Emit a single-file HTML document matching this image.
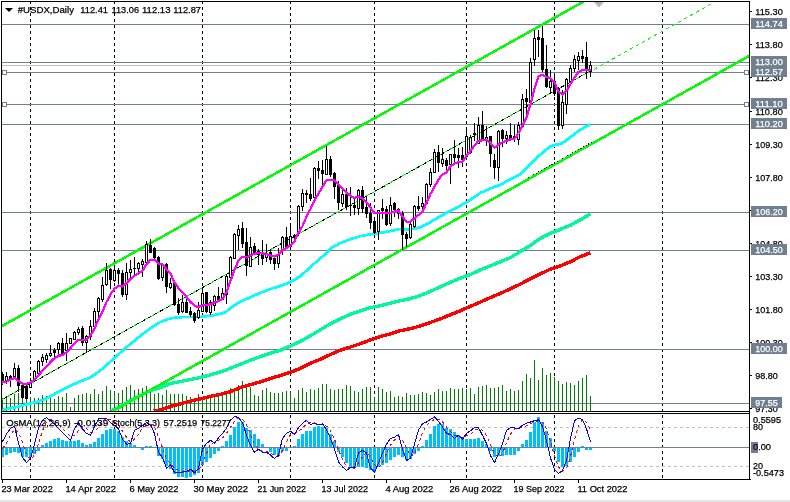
<!DOCTYPE html>
<html><head><meta charset="utf-8"><title>#USDX,Daily</title>
<style>
html,body{margin:0;padding:0;background:#fff;}
body{width:790px;height:502px;overflow:hidden;}
svg{display:block;}
text{font-family:"Liberation Sans",sans-serif;font-size:9.3px;fill:#000;stroke:#000;stroke-width:0.25px;}
.w{fill:#fff;stroke:#fff;}
</style></head><body>
<svg width="790" height="502" viewBox="0 0 790 502">
<rect x="0" y="0" width="790" height="502" fill="#fff"/>
<rect x="0" y="500" width="790" height="2" fill="#e6e6e6"/>
<g shape-rendering="crispEdges">
<defs><clipPath id="cm"><rect x="2" y="2" width="747" height="409"/></clipPath><clipPath id="cs"><rect x="2" y="414" width="747" height="65"/></clipPath></defs>
<g id="vsep" fill="none" stroke="#000" stroke-width="1" stroke-dasharray="3 3">
<line x1="30.5" y1="1" x2="30.5" y2="411"/>
<line x1="30.5" y1="415" x2="30.5" y2="479"/>
<line x1="114.5" y1="1" x2="114.5" y2="411"/>
<line x1="114.5" y1="415" x2="114.5" y2="479"/>
<line x1="202.5" y1="1" x2="202.5" y2="411"/>
<line x1="202.5" y1="415" x2="202.5" y2="479"/>
<line x1="290.5" y1="1" x2="290.5" y2="411"/>
<line x1="290.5" y1="415" x2="290.5" y2="479"/>
<line x1="374.5" y1="1" x2="374.5" y2="411"/>
<line x1="374.5" y1="415" x2="374.5" y2="479"/>
<line x1="466.5" y1="1" x2="466.5" y2="411"/>
<line x1="466.5" y1="415" x2="466.5" y2="479"/>
<line x1="554.5" y1="1" x2="554.5" y2="411"/>
<line x1="554.5" y1="415" x2="554.5" y2="479"/>
<line x1="662.5" y1="1" x2="662.5" y2="411"/>
<line x1="662.5" y1="415" x2="662.5" y2="479"/>
</g>
<rect x="2" y="24" width="747" height="1" fill="#708090"/>
<rect x="2" y="62" width="747" height="1" fill="#708090"/>
<rect x="2" y="72" width="747" height="1" fill="#708090"/>
<rect x="2" y="104" width="747" height="1" fill="#708090"/>
<rect x="2" y="124" width="747" height="1" fill="#708090"/>
<rect x="2" y="212" width="747" height="1" fill="#708090"/>
<rect x="2" y="250" width="747" height="1" fill="#708090"/>
<rect x="2" y="349" width="747" height="1" fill="#708090"/>
<rect x="2" y="403" width="747" height="1" fill="#708090"/>
<rect x="2" y="65" width="747" height="1" fill="#c0c0c0"/>
<g clip-path="url(#cm)">
<g fill="#008000">
<rect x="2" y="398" width="1" height="13"/><rect x="6" y="398" width="1" height="13"/><rect x="10" y="398" width="1" height="13"/><rect x="14" y="394" width="1" height="17"/><rect x="18" y="393" width="1" height="18"/><rect x="22" y="387" width="1" height="24"/><rect x="26" y="387" width="1" height="24"/><rect x="30" y="397" width="1" height="14"/><rect x="34" y="398" width="1" height="13"/><rect x="38" y="398" width="1" height="13"/><rect x="42" y="395" width="1" height="16"/><rect x="46" y="396" width="1" height="15"/><rect x="50" y="398" width="1" height="13"/><rect x="54" y="399" width="1" height="12"/><rect x="58" y="396" width="1" height="15"/><rect x="62" y="397" width="1" height="14"/><rect x="66" y="393" width="1" height="18"/><rect x="70" y="407" width="1" height="4"/><rect x="74" y="398" width="1" height="13"/><rect x="78" y="395" width="1" height="16"/><rect x="82" y="394" width="1" height="17"/><rect x="86" y="393" width="1" height="18"/><rect x="90" y="394" width="1" height="17"/><rect x="94" y="389" width="1" height="22"/><rect x="98" y="394" width="1" height="17"/><rect x="102" y="391" width="1" height="20"/><rect x="106" y="386" width="1" height="25"/><rect x="110" y="390" width="1" height="21"/><rect x="114" y="391" width="1" height="20"/><rect x="118" y="393" width="1" height="18"/><rect x="122" y="390" width="1" height="21"/><rect x="126" y="387" width="1" height="24"/><rect x="130" y="385" width="1" height="26"/><rect x="134" y="390" width="1" height="21"/><rect x="138" y="389" width="1" height="22"/><rect x="142" y="388" width="1" height="23"/><rect x="146" y="386" width="1" height="25"/><rect x="150" y="391" width="1" height="20"/><rect x="154" y="394" width="1" height="17"/><rect x="158" y="393" width="1" height="18"/><rect x="162" y="395" width="1" height="16"/><rect x="166" y="390" width="1" height="21"/><rect x="170" y="394" width="1" height="17"/><rect x="174" y="394" width="1" height="17"/><rect x="178" y="394" width="1" height="17"/><rect x="182" y="394" width="1" height="17"/><rect x="186" y="396" width="1" height="15"/><rect x="190" y="397" width="1" height="14"/><rect x="194" y="398" width="1" height="13"/><rect x="198" y="394" width="1" height="17"/><rect x="202" y="397" width="1" height="14"/><rect x="206" y="399" width="1" height="12"/><rect x="210" y="398" width="1" height="13"/><rect x="214" y="397" width="1" height="14"/><rect x="218" y="396" width="1" height="15"/><rect x="222" y="394" width="1" height="17"/><rect x="226" y="391" width="1" height="20"/><rect x="230" y="388" width="1" height="23"/><rect x="234" y="389" width="1" height="22"/><rect x="238" y="385" width="1" height="26"/><rect x="242" y="381" width="1" height="30"/><rect x="246" y="385" width="1" height="26"/><rect x="250" y="387" width="1" height="24"/><rect x="254" y="395" width="1" height="16"/><rect x="258" y="396" width="1" height="15"/><rect x="262" y="390" width="1" height="21"/><rect x="266" y="388" width="1" height="23"/><rect x="270" y="392" width="1" height="19"/><rect x="274" y="393" width="1" height="18"/><rect x="278" y="393" width="1" height="18"/><rect x="282" y="392" width="1" height="19"/><rect x="286" y="391" width="1" height="20"/><rect x="290" y="391" width="1" height="20"/><rect x="294" y="398" width="1" height="13"/><rect x="298" y="390" width="1" height="21"/><rect x="302" y="388" width="1" height="23"/><rect x="306" y="392" width="1" height="19"/><rect x="310" y="389" width="1" height="22"/><rect x="314" y="390" width="1" height="21"/><rect x="318" y="388" width="1" height="23"/><rect x="322" y="384" width="1" height="27"/><rect x="326" y="384" width="1" height="27"/><rect x="330" y="389" width="1" height="22"/><rect x="334" y="390" width="1" height="21"/><rect x="338" y="389" width="1" height="22"/><rect x="342" y="389" width="1" height="22"/><rect x="346" y="385" width="1" height="26"/><rect x="350" y="386" width="1" height="25"/><rect x="354" y="391" width="1" height="20"/><rect x="358" y="392" width="1" height="19"/><rect x="362" y="389" width="1" height="22"/><rect x="366" y="387" width="1" height="24"/><rect x="370" y="387" width="1" height="24"/><rect x="374" y="397" width="1" height="14"/><rect x="378" y="387" width="1" height="24"/><rect x="382" y="389" width="1" height="22"/><rect x="386" y="392" width="1" height="19"/><rect x="390" y="391" width="1" height="20"/><rect x="394" y="397" width="1" height="14"/><rect x="398" y="396" width="1" height="15"/><rect x="402" y="397" width="1" height="14"/><rect x="406" y="393" width="1" height="18"/><rect x="410" y="395" width="1" height="16"/><rect x="414" y="395" width="1" height="16"/><rect x="418" y="394" width="1" height="17"/><rect x="422" y="392" width="1" height="19"/><rect x="426" y="393" width="1" height="18"/><rect x="430" y="395" width="1" height="16"/><rect x="434" y="392" width="1" height="19"/><rect x="438" y="389" width="1" height="22"/><rect x="442" y="391" width="1" height="20"/><rect x="446" y="391" width="1" height="20"/><rect x="450" y="388" width="1" height="23"/><rect x="454" y="389" width="1" height="22"/><rect x="458" y="389" width="1" height="22"/><rect x="462" y="388" width="1" height="23"/><rect x="466" y="389" width="1" height="22"/><rect x="470" y="388" width="1" height="23"/><rect x="474" y="394" width="1" height="17"/><rect x="478" y="387" width="1" height="24"/><rect x="482" y="386" width="1" height="25"/><rect x="486" y="385" width="1" height="26"/><rect x="490" y="388" width="1" height="23"/><rect x="494" y="388" width="1" height="23"/><rect x="498" y="387" width="1" height="24"/><rect x="502" y="385" width="1" height="26"/><rect x="506" y="391" width="1" height="20"/><rect x="510" y="389" width="1" height="22"/><rect x="514" y="391" width="1" height="20"/><rect x="518" y="390" width="1" height="21"/><rect x="522" y="381" width="1" height="30"/><rect x="526" y="374" width="1" height="37"/><rect x="530" y="378" width="1" height="33"/><rect x="534" y="360" width="1" height="51"/><rect x="538" y="380" width="1" height="31"/><rect x="542" y="368" width="1" height="43"/><rect x="546" y="375" width="1" height="36"/><rect x="550" y="373" width="1" height="38"/><rect x="554" y="377" width="1" height="34"/><rect x="558" y="381" width="1" height="30"/><rect x="562" y="384" width="1" height="27"/><rect x="566" y="382" width="1" height="29"/><rect x="570" y="383" width="1" height="28"/><rect x="574" y="385" width="1" height="26"/><rect x="578" y="381" width="1" height="30"/><rect x="582" y="378" width="1" height="33"/><rect x="586" y="375" width="1" height="36"/><rect x="590" y="396" width="1" height="15"/>
</g>
<polyline points="153.7,411.0 160.0,410.0 170.0,406.6 180.0,403.9 190.0,401.3 200.0,398.9 210.0,396.4 220.0,394.4 230.0,391.8 240.0,387.7 250.0,384.7 260.0,382.0 270.0,378.6 280.0,375.6 290.0,372.5 300.0,368.5 310.0,363.4 320.0,359.4 330.0,354.7 340.0,350.3 350.0,347.2 360.0,343.8 370.0,340.0 380.0,336.6 390.0,334.0 400.0,330.8 410.0,328.7 420.0,326.1 430.0,322.6 440.0,319.0 450.0,314.9 460.0,310.9 470.0,306.5 480.0,302.2 490.0,297.8 500.0,293.5 508.0,290.0 520.0,284.2 530.0,279.1 540.0,274.0 550.0,269.4 560.0,266.0 570.0,261.9 580.0,256.8 590.5,252.8" fill="none" stroke="#ff0000" stroke-width="3.4" stroke-linejoin="round"/>
<polyline points="111.0,411.0 120.0,407.0 130.0,400.9 140.0,395.8 150.0,390.8 160.0,387.7 170.0,383.7 180.0,381.6 190.0,379.6 200.0,377.6 210.0,375.0 220.0,372.1 230.0,368.5 240.0,364.4 250.0,360.4 260.0,356.8 270.0,353.3 280.0,350.3 290.0,346.2 300.0,341.5 310.0,336.0 320.0,330.0 330.0,324.0 340.0,319.0 350.0,314.5 360.0,310.9 370.0,307.8 380.0,305.8 390.0,303.2 400.0,300.8 410.0,298.7 420.0,295.7 430.0,291.6 440.0,287.0 450.0,282.5 460.0,278.3 470.0,274.7 480.0,270.0 490.0,266.0 500.0,261.9 510.0,257.8 520.0,251.8 530.0,245.7 540.0,238.6 550.0,233.5 560.0,229.5 570.0,225.4 580.0,220.0 590.5,213.9" fill="none" stroke="#00fa9a" stroke-width="3.4" stroke-linejoin="round"/>
<polyline points="2.0,410.0 20.0,406.2 40.0,401.2 50.0,396.5 60.0,391.0 70.0,386.0 80.0,381.5 90.0,377.7 100.0,370.8 110.0,362.0 120.0,353.0 128.0,346.0 140.0,336.2 150.0,328.6 160.0,322.2 170.0,318.4 180.0,317.2 190.0,317.0 200.0,317.0 210.0,315.8 220.0,313.9 226.0,312.0 230.0,308.2 236.0,304.4 240.0,301.9 250.0,297.4 260.0,293.0 270.0,289.2 280.0,286.0 290.0,282.3 300.0,276.6 310.0,267.5 320.0,258.5 327.0,253.0 330.0,248.9 340.0,243.2 350.0,239.4 360.0,236.2 370.0,234.3 380.0,233.0 390.0,231.1 400.0,229.0 410.0,229.6 420.0,227.4 430.0,222.3 440.0,216.6 450.0,210.9 460.0,205.9 470.0,200.2 480.0,193.2 490.0,188.5 500.0,185.0 510.0,179.5 520.0,174.4 530.0,164.9 540.0,154.9 550.0,146.7 556.0,144.6 562.0,143.6 570.0,137.5 580.0,129.9 590.5,124.3" fill="none" stroke="#00ffff" stroke-width="2.7" stroke-linejoin="round"/>
<polyline points="100.0,418.2 760.0,49.9" fill="none" stroke="#00ff00" stroke-width="2.5" stroke-linejoin="round"/>
<polyline points="0.0,327.2 600.0,-7.6" fill="none" stroke="#00ff00" stroke-width="2.5" stroke-linejoin="round"/>
<polyline points="2.0,399.6 591.0,70.6" fill="none" stroke="#000" stroke-width="1" stroke-linejoin="round"/>
<polyline points="2.0,399.6 591.0,70.6" fill="none" stroke="#00ff00" stroke-width="1" stroke-linejoin="round" stroke-dasharray="3.43 3.43" stroke-dashoffset="1"/>
<polyline points="594.0,69.4 712.0,3.5" fill="none" stroke="#00ff00" stroke-width="1" stroke-linejoin="round" stroke-dasharray="3.43 3.43"/>
<polyline points="528.0,177.8 592.0,142.1" fill="none" stroke="#000" stroke-width="1" stroke-linejoin="round" stroke-dasharray="1 2"/>
</g>
<g clip-path="url(#cm)">
<rect x="2" y="372" width="1" height="13" fill="#000"/><rect x="1" y="374" width="3" height="9" fill="#000"/>
<rect x="6" y="372" width="1" height="12" fill="#000"/><rect x="5" y="376" width="3" height="5" fill="#000"/><rect x="6" y="377" width="1" height="3" fill="#fff"/>
<rect x="10" y="375" width="1" height="12" fill="#000"/><rect x="9" y="376" width="3" height="3" fill="#000"/>
<rect x="14" y="363" width="1" height="16" fill="#000"/><rect x="13" y="368" width="3" height="9" fill="#000"/><rect x="14" y="369" width="1" height="7" fill="#fff"/>
<rect x="18" y="365" width="1" height="27" fill="#000"/><rect x="17" y="368" width="3" height="18" fill="#000"/>
<rect x="22" y="384" width="1" height="15" fill="#000"/><rect x="21" y="385" width="3" height="13" fill="#000"/>
<rect x="26" y="385" width="1" height="14" fill="#000"/><rect x="25" y="386" width="3" height="13" fill="#000"/>
<rect x="30" y="378" width="1" height="10" fill="#000"/><rect x="29" y="382" width="3" height="6" fill="#000"/><rect x="30" y="383" width="1" height="4" fill="#fff"/>
<rect x="34" y="370" width="1" height="12" fill="#000"/><rect x="33" y="371" width="3" height="10" fill="#000"/><rect x="34" y="372" width="1" height="8" fill="#fff"/>
<rect x="38" y="360" width="1" height="14" fill="#000"/><rect x="37" y="361" width="3" height="13" fill="#000"/><rect x="38" y="362" width="1" height="11" fill="#fff"/>
<rect x="42" y="354" width="1" height="12" fill="#000"/><rect x="41" y="357" width="3" height="5" fill="#000"/><rect x="42" y="358" width="1" height="3" fill="#fff"/>
<rect x="46" y="353" width="1" height="10" fill="#000"/><rect x="45" y="355" width="3" height="5" fill="#000"/><rect x="46" y="356" width="1" height="3" fill="#fff"/>
<rect x="50" y="345" width="1" height="12" fill="#000"/><rect x="49" y="353" width="3" height="3" fill="#000"/><rect x="50" y="354" width="1" height="1" fill="#fff"/>
<rect x="54" y="348" width="1" height="12" fill="#000"/><rect x="53" y="350" width="3" height="3" fill="#000"/>
<rect x="58" y="342" width="1" height="13" fill="#000"/><rect x="57" y="343" width="3" height="7" fill="#000"/><rect x="58" y="344" width="1" height="5" fill="#fff"/>
<rect x="62" y="338" width="1" height="17" fill="#000"/><rect x="61" y="343" width="3" height="12" fill="#000"/>
<rect x="66" y="333" width="1" height="28" fill="#000"/><rect x="65" y="343" width="3" height="8" fill="#000"/><rect x="66" y="344" width="1" height="6" fill="#fff"/>
<rect x="70" y="338" width="1" height="6" fill="#000"/><rect x="69" y="338" width="3" height="6" fill="#000"/><rect x="70" y="339" width="1" height="4" fill="#fff"/>
<rect x="74" y="331" width="1" height="9" fill="#000"/><rect x="73" y="332" width="3" height="8" fill="#000"/><rect x="74" y="333" width="1" height="6" fill="#fff"/>
<rect x="78" y="327" width="1" height="8" fill="#000"/><rect x="77" y="329" width="3" height="4" fill="#000"/><rect x="78" y="330" width="1" height="2" fill="#fff"/>
<rect x="82" y="326" width="1" height="20" fill="#000"/><rect x="81" y="328" width="3" height="15" fill="#000"/>
<rect x="86" y="335" width="1" height="18" fill="#000"/><rect x="85" y="336" width="3" height="7" fill="#000"/><rect x="86" y="337" width="1" height="5" fill="#fff"/>
<rect x="90" y="320" width="1" height="20" fill="#000"/><rect x="89" y="326" width="3" height="11" fill="#000"/><rect x="90" y="327" width="1" height="9" fill="#fff"/>
<rect x="94" y="308" width="1" height="20" fill="#000"/><rect x="93" y="311" width="3" height="16" fill="#000"/><rect x="94" y="312" width="1" height="14" fill="#fff"/>
<rect x="98" y="297" width="1" height="21" fill="#000"/><rect x="97" y="298" width="3" height="14" fill="#000"/><rect x="98" y="299" width="1" height="12" fill="#fff"/>
<rect x="102" y="277" width="1" height="25" fill="#000"/><rect x="101" y="285" width="3" height="15" fill="#000"/><rect x="102" y="286" width="1" height="13" fill="#fff"/>
<rect x="106" y="263" width="1" height="23" fill="#000"/><rect x="105" y="270" width="3" height="15" fill="#000"/><rect x="106" y="271" width="1" height="13" fill="#fff"/>
<rect x="110" y="268" width="1" height="21" fill="#000"/><rect x="109" y="269" width="3" height="11" fill="#000"/>
<rect x="114" y="265" width="1" height="17" fill="#000"/><rect x="113" y="270" width="3" height="11" fill="#000"/><rect x="114" y="271" width="1" height="9" fill="#fff"/>
<rect x="118" y="268" width="1" height="17" fill="#000"/><rect x="117" y="270" width="3" height="4" fill="#000"/>
<rect x="122" y="270" width="1" height="27" fill="#000"/><rect x="121" y="273" width="3" height="22" fill="#000"/>
<rect x="126" y="263" width="1" height="37" fill="#000"/><rect x="125" y="272" width="3" height="23" fill="#000"/><rect x="126" y="273" width="1" height="21" fill="#fff"/>
<rect x="130" y="260" width="1" height="18" fill="#000"/><rect x="129" y="269" width="3" height="4" fill="#000"/><rect x="130" y="270" width="1" height="2" fill="#fff"/>
<rect x="134" y="257" width="1" height="18" fill="#000"/><rect x="133" y="268" width="3" height="1" fill="#000"/>
<rect x="138" y="262" width="1" height="11" fill="#000"/><rect x="137" y="263" width="3" height="6" fill="#000"/><rect x="138" y="264" width="1" height="4" fill="#fff"/>
<rect x="142" y="259" width="1" height="18" fill="#000"/><rect x="141" y="261" width="3" height="4" fill="#000"/><rect x="142" y="262" width="1" height="2" fill="#fff"/>
<rect x="146" y="241" width="1" height="23" fill="#000"/><rect x="145" y="244" width="3" height="19" fill="#000"/><rect x="146" y="245" width="1" height="17" fill="#fff"/>
<rect x="150" y="239" width="1" height="14" fill="#000"/><rect x="149" y="245" width="3" height="8" fill="#000"/>
<rect x="154" y="247" width="1" height="14" fill="#000"/><rect x="153" y="248" width="3" height="10" fill="#000"/>
<rect x="158" y="256" width="1" height="24" fill="#000"/><rect x="157" y="257" width="3" height="22" fill="#000"/>
<rect x="162" y="264" width="1" height="17" fill="#000"/><rect x="161" y="264" width="3" height="14" fill="#000"/><rect x="162" y="265" width="1" height="12" fill="#fff"/>
<rect x="166" y="263" width="1" height="30" fill="#000"/><rect x="165" y="264" width="3" height="23" fill="#000"/>
<rect x="170" y="278" width="1" height="11" fill="#000"/><rect x="169" y="283" width="3" height="5" fill="#000"/><rect x="170" y="284" width="1" height="3" fill="#fff"/>
<rect x="174" y="281" width="1" height="25" fill="#000"/><rect x="173" y="282" width="3" height="23" fill="#000"/>
<rect x="178" y="298" width="1" height="17" fill="#000"/><rect x="177" y="304" width="3" height="9" fill="#000"/>
<rect x="182" y="295" width="1" height="18" fill="#000"/><rect x="181" y="302" width="3" height="10" fill="#000"/><rect x="182" y="303" width="1" height="8" fill="#fff"/>
<rect x="186" y="299" width="1" height="14" fill="#000"/><rect x="185" y="302" width="3" height="11" fill="#000"/>
<rect x="190" y="307" width="1" height="10" fill="#000"/><rect x="189" y="311" width="3" height="4" fill="#000"/>
<rect x="194" y="312" width="1" height="11" fill="#000"/><rect x="193" y="313" width="3" height="8" fill="#000"/>
<rect x="198" y="302" width="1" height="17" fill="#000"/><rect x="197" y="310" width="3" height="8" fill="#000"/><rect x="198" y="311" width="1" height="6" fill="#fff"/>
<rect x="202" y="288" width="1" height="24" fill="#000"/><rect x="201" y="293" width="3" height="19" fill="#000"/><rect x="202" y="294" width="1" height="17" fill="#fff"/>
<rect x="206" y="292" width="1" height="21" fill="#000"/><rect x="205" y="292" width="3" height="20" fill="#000"/>
<rect x="210" y="300" width="1" height="15" fill="#000"/><rect x="209" y="302" width="3" height="11" fill="#000"/><rect x="210" y="303" width="1" height="9" fill="#fff"/>
<rect x="214" y="295" width="1" height="16" fill="#000"/><rect x="213" y="296" width="3" height="10" fill="#000"/><rect x="214" y="297" width="1" height="8" fill="#fff"/>
<rect x="218" y="287" width="1" height="14" fill="#000"/><rect x="217" y="296" width="3" height="4" fill="#000"/>
<rect x="222" y="288" width="1" height="12" fill="#000"/><rect x="221" y="293" width="3" height="7" fill="#000"/><rect x="222" y="294" width="1" height="5" fill="#fff"/>
<rect x="226" y="275" width="1" height="29" fill="#000"/><rect x="225" y="276" width="3" height="19" fill="#000"/><rect x="226" y="277" width="1" height="17" fill="#fff"/>
<rect x="230" y="256" width="1" height="26" fill="#000"/><rect x="229" y="257" width="3" height="21" fill="#000"/><rect x="230" y="258" width="1" height="19" fill="#fff"/>
<rect x="234" y="233" width="1" height="26" fill="#000"/><rect x="233" y="234" width="3" height="25" fill="#000"/><rect x="234" y="235" width="1" height="23" fill="#fff"/>
<rect x="238" y="225" width="1" height="25" fill="#000"/><rect x="237" y="229" width="3" height="7" fill="#000"/><rect x="238" y="230" width="1" height="5" fill="#fff"/>
<rect x="242" y="222" width="1" height="26" fill="#000"/><rect x="241" y="228" width="3" height="16" fill="#000"/>
<rect x="246" y="228" width="1" height="48" fill="#000"/><rect x="245" y="242" width="3" height="24" fill="#000"/>
<rect x="250" y="237" width="1" height="30" fill="#000"/><rect x="249" y="247" width="3" height="20" fill="#000"/><rect x="250" y="248" width="1" height="18" fill="#fff"/>
<rect x="254" y="243" width="1" height="12" fill="#000"/><rect x="253" y="246" width="3" height="8" fill="#000"/>
<rect x="258" y="249" width="1" height="16" fill="#000"/><rect x="257" y="251" width="3" height="4" fill="#000"/>
<rect x="262" y="240" width="1" height="25" fill="#000"/><rect x="261" y="252" width="3" height="7" fill="#000"/>
<rect x="266" y="244" width="1" height="18" fill="#000"/><rect x="265" y="253" width="3" height="5" fill="#000"/><rect x="266" y="254" width="1" height="3" fill="#fff"/>
<rect x="270" y="249" width="1" height="15" fill="#000"/><rect x="269" y="252" width="3" height="8" fill="#000"/>
<rect x="274" y="256" width="1" height="14" fill="#000"/><rect x="273" y="258" width="3" height="6" fill="#000"/>
<rect x="278" y="248" width="1" height="20" fill="#000"/><rect x="277" y="254" width="3" height="10" fill="#000"/><rect x="278" y="255" width="1" height="8" fill="#fff"/>
<rect x="282" y="236" width="1" height="19" fill="#000"/><rect x="281" y="237" width="3" height="13" fill="#000"/><rect x="282" y="238" width="1" height="11" fill="#fff"/>
<rect x="286" y="227" width="1" height="22" fill="#000"/><rect x="285" y="237" width="3" height="11" fill="#000"/>
<rect x="290" y="224" width="1" height="26" fill="#000"/><rect x="289" y="236" width="3" height="11" fill="#000"/><rect x="290" y="237" width="1" height="9" fill="#fff"/>
<rect x="294" y="234" width="1" height="7" fill="#000"/><rect x="293" y="235" width="3" height="3" fill="#000"/>
<rect x="298" y="205" width="1" height="31" fill="#000"/><rect x="297" y="206" width="3" height="28" fill="#000"/><rect x="298" y="207" width="1" height="26" fill="#fff"/>
<rect x="302" y="189" width="1" height="22" fill="#000"/><rect x="301" y="193" width="3" height="14" fill="#000"/><rect x="302" y="194" width="1" height="12" fill="#fff"/>
<rect x="306" y="190" width="1" height="13" fill="#000"/><rect x="305" y="193" width="3" height="2" fill="#000"/>
<rect x="310" y="178" width="1" height="23" fill="#000"/><rect x="309" y="194" width="3" height="5" fill="#000"/>
<rect x="314" y="167" width="1" height="32" fill="#000"/><rect x="313" y="168" width="3" height="30" fill="#000"/><rect x="314" y="169" width="1" height="28" fill="#fff"/>
<rect x="318" y="161" width="1" height="18" fill="#000"/><rect x="317" y="168" width="3" height="3" fill="#000"/>
<rect x="322" y="160" width="1" height="26" fill="#000"/><rect x="321" y="170" width="3" height="4" fill="#000"/>
<rect x="326" y="146" width="1" height="29" fill="#000"/><rect x="325" y="159" width="3" height="16" fill="#000"/><rect x="326" y="160" width="1" height="14" fill="#fff"/>
<rect x="330" y="156" width="1" height="21" fill="#000"/><rect x="329" y="159" width="3" height="16" fill="#000"/>
<rect x="334" y="172" width="1" height="27" fill="#000"/><rect x="333" y="173" width="3" height="14" fill="#000"/>
<rect x="338" y="181" width="1" height="29" fill="#000"/><rect x="337" y="185" width="3" height="18" fill="#000"/>
<rect x="342" y="190" width="1" height="17" fill="#000"/><rect x="341" y="194" width="3" height="10" fill="#000"/><rect x="342" y="195" width="1" height="8" fill="#fff"/>
<rect x="346" y="188" width="1" height="22" fill="#000"/><rect x="345" y="194" width="3" height="13" fill="#000"/>
<rect x="350" y="187" width="1" height="29" fill="#000"/><rect x="349" y="205" width="3" height="1" fill="#000"/>
<rect x="354" y="199" width="1" height="16" fill="#000"/><rect x="353" y="205" width="3" height="3" fill="#000"/>
<rect x="358" y="189" width="1" height="26" fill="#000"/><rect x="357" y="190" width="3" height="19" fill="#000"/><rect x="358" y="191" width="1" height="17" fill="#fff"/>
<rect x="362" y="186" width="1" height="27" fill="#000"/><rect x="361" y="190" width="3" height="19" fill="#000"/>
<rect x="366" y="196" width="1" height="22" fill="#000"/><rect x="365" y="207" width="3" height="7" fill="#000"/>
<rect x="370" y="203" width="1" height="26" fill="#000"/><rect x="369" y="213" width="3" height="10" fill="#000"/>
<rect x="374" y="218" width="1" height="16" fill="#000"/><rect x="373" y="221" width="3" height="12" fill="#000"/>
<rect x="378" y="210" width="1" height="30" fill="#000"/><rect x="377" y="210" width="3" height="22" fill="#000"/><rect x="378" y="211" width="1" height="20" fill="#fff"/>
<rect x="382" y="199" width="1" height="20" fill="#000"/><rect x="381" y="208" width="3" height="3" fill="#000"/>
<rect x="386" y="206" width="1" height="20" fill="#000"/><rect x="385" y="209" width="3" height="16" fill="#000"/>
<rect x="390" y="197" width="1" height="29" fill="#000"/><rect x="389" y="205" width="3" height="19" fill="#000"/><rect x="390" y="206" width="1" height="17" fill="#fff"/>
<rect x="394" y="202" width="1" height="15" fill="#000"/><rect x="393" y="203" width="3" height="7" fill="#000"/>
<rect x="398" y="208" width="1" height="11" fill="#000"/><rect x="397" y="209" width="3" height="5" fill="#000"/>
<rect x="402" y="211" width="1" height="39" fill="#000"/><rect x="401" y="213" width="3" height="22" fill="#000"/>
<rect x="406" y="232" width="1" height="15" fill="#000"/><rect x="405" y="234" width="3" height="5" fill="#000"/>
<rect x="410" y="223" width="1" height="16" fill="#000"/><rect x="409" y="224" width="3" height="14" fill="#000"/><rect x="410" y="225" width="1" height="12" fill="#fff"/>
<rect x="414" y="205" width="1" height="23" fill="#000"/><rect x="413" y="206" width="3" height="21" fill="#000"/><rect x="414" y="207" width="1" height="19" fill="#fff"/>
<rect x="418" y="196" width="1" height="15" fill="#000"/><rect x="417" y="206" width="3" height="3" fill="#000"/>
<rect x="422" y="197" width="1" height="14" fill="#000"/><rect x="421" y="203" width="3" height="4" fill="#000"/><rect x="422" y="204" width="1" height="2" fill="#fff"/>
<rect x="426" y="183" width="1" height="22" fill="#000"/><rect x="425" y="184" width="3" height="20" fill="#000"/><rect x="426" y="185" width="1" height="18" fill="#fff"/>
<rect x="430" y="168" width="1" height="19" fill="#000"/><rect x="429" y="172" width="3" height="13" fill="#000"/><rect x="430" y="173" width="1" height="11" fill="#fff"/>
<rect x="434" y="149" width="1" height="24" fill="#000"/><rect x="433" y="152" width="3" height="21" fill="#000"/><rect x="434" y="153" width="1" height="19" fill="#fff"/>
<rect x="438" y="145" width="1" height="27" fill="#000"/><rect x="437" y="152" width="3" height="11" fill="#000"/>
<rect x="442" y="148" width="1" height="19" fill="#000"/><rect x="441" y="159" width="3" height="5" fill="#000"/><rect x="442" y="160" width="1" height="3" fill="#fff"/>
<rect x="446" y="158" width="1" height="14" fill="#000"/><rect x="445" y="160" width="3" height="6" fill="#000"/>
<rect x="450" y="154" width="1" height="30" fill="#000"/><rect x="449" y="154" width="3" height="11" fill="#000"/><rect x="450" y="155" width="1" height="9" fill="#fff"/>
<rect x="454" y="140" width="1" height="24" fill="#000"/><rect x="453" y="154" width="3" height="4" fill="#000"/>
<rect x="458" y="148" width="1" height="20" fill="#000"/><rect x="457" y="155" width="3" height="3" fill="#000"/>
<rect x="462" y="147" width="1" height="20" fill="#000"/><rect x="461" y="155" width="3" height="5" fill="#000"/>
<rect x="466" y="127" width="1" height="32" fill="#000"/><rect x="465" y="136" width="3" height="21" fill="#000"/><rect x="466" y="137" width="1" height="19" fill="#fff"/>
<rect x="470" y="135" width="1" height="19" fill="#000"/><rect x="469" y="137" width="3" height="16" fill="#000"/><rect x="470" y="138" width="1" height="14" fill="#fff"/>
<rect x="474" y="123" width="1" height="18" fill="#000"/><rect x="473" y="133" width="3" height="2" fill="#000"/>
<rect x="478" y="117" width="1" height="27" fill="#000"/><rect x="477" y="125" width="3" height="19" fill="#000"/><rect x="478" y="126" width="1" height="17" fill="#fff"/>
<rect x="482" y="111" width="1" height="30" fill="#000"/><rect x="481" y="125" width="3" height="15" fill="#000"/>
<rect x="486" y="126" width="1" height="20" fill="#000"/><rect x="485" y="137" width="3" height="3" fill="#000"/><rect x="486" y="138" width="1" height="1" fill="#fff"/>
<rect x="490" y="136" width="1" height="31" fill="#000"/><rect x="489" y="136" width="3" height="18" fill="#000"/>
<rect x="494" y="154" width="1" height="25" fill="#000"/><rect x="493" y="160" width="3" height="8" fill="#000"/>
<rect x="498" y="130" width="1" height="51" fill="#000"/><rect x="497" y="131" width="3" height="37" fill="#000"/><rect x="498" y="132" width="1" height="35" fill="#fff"/>
<rect x="502" y="129" width="1" height="18" fill="#000"/><rect x="501" y="130" width="3" height="9" fill="#000"/>
<rect x="506" y="131" width="1" height="13" fill="#000"/><rect x="505" y="135" width="3" height="4" fill="#000"/><rect x="506" y="136" width="1" height="2" fill="#fff"/>
<rect x="510" y="123" width="1" height="17" fill="#000"/><rect x="509" y="135" width="3" height="4" fill="#000"/>
<rect x="514" y="125" width="1" height="17" fill="#000"/><rect x="513" y="136" width="3" height="3" fill="#000"/>
<rect x="518" y="122" width="1" height="23" fill="#000"/><rect x="517" y="125" width="3" height="15" fill="#000"/><rect x="518" y="126" width="1" height="13" fill="#fff"/>
<rect x="522" y="94" width="1" height="33" fill="#000"/><rect x="521" y="99" width="3" height="28" fill="#000"/><rect x="522" y="100" width="1" height="26" fill="#fff"/>
<rect x="526" y="89" width="1" height="25" fill="#000"/><rect x="525" y="98" width="3" height="4" fill="#000"/>
<rect x="530" y="58" width="1" height="47" fill="#000"/><rect x="529" y="62" width="3" height="41" fill="#000"/><rect x="530" y="63" width="1" height="39" fill="#fff"/>
<rect x="534" y="30" width="1" height="36" fill="#000"/><rect x="533" y="38" width="3" height="22" fill="#000"/><rect x="534" y="39" width="1" height="20" fill="#fff"/>
<rect x="538" y="30" width="1" height="27" fill="#000"/><rect x="537" y="37" width="3" height="3" fill="#000"/>
<rect x="542" y="26" width="1" height="46" fill="#000"/><rect x="541" y="38" width="3" height="32" fill="#000"/>
<rect x="546" y="45" width="1" height="43" fill="#000"/><rect x="545" y="69" width="3" height="18" fill="#000"/>
<rect x="550" y="70" width="1" height="24" fill="#000"/><rect x="549" y="81" width="3" height="7" fill="#000"/><rect x="550" y="82" width="1" height="5" fill="#fff"/>
<rect x="554" y="73" width="1" height="23" fill="#000"/><rect x="553" y="81" width="3" height="13" fill="#000"/>
<rect x="558" y="87" width="1" height="43" fill="#000"/><rect x="557" y="88" width="3" height="38" fill="#000"/>
<rect x="562" y="90" width="1" height="39" fill="#000"/><rect x="561" y="102" width="3" height="24" fill="#000"/><rect x="562" y="103" width="1" height="22" fill="#fff"/>
<rect x="566" y="78" width="1" height="36" fill="#000"/><rect x="565" y="79" width="3" height="26" fill="#000"/><rect x="566" y="80" width="1" height="24" fill="#fff"/>
<rect x="570" y="65" width="1" height="20" fill="#000"/><rect x="569" y="68" width="3" height="14" fill="#000"/><rect x="570" y="69" width="1" height="12" fill="#fff"/>
<rect x="574" y="55" width="1" height="17" fill="#000"/><rect x="573" y="59" width="3" height="10" fill="#000"/><rect x="574" y="60" width="1" height="8" fill="#fff"/>
<rect x="578" y="52" width="1" height="18" fill="#000"/><rect x="577" y="56" width="3" height="5" fill="#000"/><rect x="578" y="57" width="1" height="3" fill="#fff"/>
<rect x="582" y="50" width="1" height="13" fill="#000"/><rect x="581" y="56" width="3" height="3" fill="#000"/>
<rect x="586" y="42" width="1" height="37" fill="#000"/><rect x="585" y="57" width="3" height="13" fill="#000"/>
<rect x="590" y="61" width="1" height="16" fill="#000"/><rect x="589" y="65" width="3" height="7" fill="#000"/><rect x="590" y="66" width="1" height="5" fill="#fff"/>
</g>
<g clip-path="url(#cm)">
<polyline points="2.0,382.8 6.5,381.5 10.5,379.6 14.5,378.1 18.5,380.9 22.5,383.7 26.5,384.0 30.5,382.4 34.5,379.6 38.5,375.2 42.5,370.8 46.5,366.4 50.5,362.0 54.5,358.1 58.5,355.6 62.5,355.3 66.5,352.4 70.5,348.0 74.5,343.2 78.5,340.0 82.5,340.4 86.5,339.4 90.5,335.6 94.5,328.7 98.5,319.2 102.5,311.5 106.5,302.0 110.5,294.4 114.5,288.8 118.5,285.6 122.5,286.6 126.5,283.1 130.5,279.0 134.5,275.8 138.5,273.6 142.5,270.7 146.5,264.4 150.5,259.7 154.5,259.7 158.5,263.9 162.5,264.4 166.5,269.2 170.5,273.6 174.5,282.5 178.5,288.1 182.5,292.3 186.5,297.0 190.5,302.0 194.5,305.8 198.5,307.0 202.5,305.5 206.5,304.8 210.5,304.4 214.5,302.5 218.5,301.0 222.5,298.7 226.5,292.4 230.5,281.0 234.5,269.6 238.5,260.7 242.5,256.9 246.5,257.5 250.5,255.6 254.5,253.7 258.5,253.1 262.5,253.4 266.5,254.1 270.5,255.6 274.5,256.6 278.5,254.4 282.5,249.9 286.5,248.0 290.5,245.5 294.5,241.1 298.5,232.8 302.5,226.1 306.5,216.6 310.5,209.0 314.5,200.1 318.5,193.5 322.5,186.8 326.5,180.3 330.5,179.9 334.5,180.3 338.5,184.9 342.5,188.6 346.5,192.5 350.5,195.7 354.5,198.0 358.5,196.6 362.5,198.7 366.5,202.0 370.5,207.7 374.5,213.0 378.5,213.0 382.5,212.8 386.5,213.4 390.5,212.8 394.5,211.5 398.5,210.5 402.5,216.6 406.5,221.7 410.5,221.7 414.5,218.2 418.5,215.1 422.5,211.6 426.5,202.7 430.5,193.9 434.5,186.8 438.5,179.4 442.5,174.4 446.5,172.5 450.5,166.5 454.5,163.6 458.5,162.0 462.5,161.5 466.5,156.0 470.5,151.0 474.5,145.3 478.5,140.8 482.5,140.4 486.5,139.8 490.5,142.8 494.5,147.8 498.5,144.7 502.5,142.2 506.5,140.9 510.5,139.6 514.5,138.7 518.5,133.5 522.5,125.6 526.5,118.0 530.5,104.1 534.5,88.3 538.5,76.3 542.5,75.0 546.5,76.9 550.5,78.2 554.5,82.6 558.5,91.5 562.5,94.6 566.5,90.8 570.5,84.0 574.5,78.0 578.5,72.0 582.5,69.7 586.5,69.7 590.5,69.7" fill="none" stroke="#ff00ff" stroke-width="2.2" stroke-linejoin="round"/>
</g>
<rect x="2.5" y="70.5" width="4" height="4" fill="#fff" stroke="#708090" stroke-width="1"/>
<rect x="744.5" y="70.5" width="4" height="4" fill="#fff" stroke="#708090" stroke-width="1"/>
<rect x="2.5" y="102.5" width="4" height="4" fill="#fff" stroke="#708090" stroke-width="1"/>
<rect x="744.5" y="102.5" width="4" height="4" fill="#fff" stroke="#708090" stroke-width="1"/>
<polygon points="594,2 604,2 599,7.5" fill="#b4b4b4" shape-rendering="auto"/>
<g clip-path="url(#cs)">
<line x1="2" y1="427.5" x2="749" y2="427.5" stroke="#c0c0c0" stroke-width="1" stroke-dasharray="3 3"/>
<line x1="2" y1="466.5" x2="749" y2="466.5" stroke="#c0c0c0" stroke-width="1" stroke-dasharray="3 3"/>
<g fill="#00bfff">
<rect x="1" y="448" width="3" height="9"/><rect x="5" y="448" width="3" height="7"/><rect x="9" y="448" width="3" height="5"/><rect x="13" y="448" width="3" height="4"/><rect x="17" y="448" width="3" height="5"/><rect x="21" y="448" width="3" height="9"/><rect x="25" y="448" width="3" height="9"/><rect x="29" y="448" width="3" height="9"/><rect x="33" y="448" width="3" height="6"/><rect x="37" y="448" width="3" height="3"/><rect x="41" y="445" width="3" height="2"/><rect x="45" y="443" width="3" height="4"/><rect x="49" y="441" width="3" height="6"/><rect x="53" y="439" width="3" height="8"/><rect x="57" y="438" width="3" height="9"/><rect x="61" y="440" width="3" height="7"/><rect x="65" y="441" width="3" height="6"/><rect x="69" y="441" width="3" height="6"/><rect x="73" y="441" width="3" height="6"/><rect x="77" y="440" width="3" height="7"/><rect x="81" y="443" width="3" height="4"/><rect x="85" y="445" width="3" height="2"/><rect x="89" y="444" width="3" height="3"/><rect x="93" y="442" width="3" height="5"/><rect x="97" y="438" width="3" height="9"/><rect x="101" y="434" width="3" height="13"/><rect x="105" y="430" width="3" height="17"/><rect x="109" y="429" width="3" height="18"/><rect x="113" y="429" width="3" height="18"/><rect x="117" y="431" width="3" height="16"/><rect x="121" y="437" width="3" height="10"/><rect x="125" y="441" width="3" height="6"/><rect x="129" y="443" width="3" height="4"/><rect x="133" y="445" width="3" height="2"/><rect x="141" y="448" width="3" height="2"/><rect x="145" y="446" width="3" height="1"/><rect x="149" y="446" width="3" height="1"/><rect x="157" y="448" width="3" height="8"/><rect x="161" y="448" width="3" height="11"/><rect x="165" y="448" width="3" height="18"/><rect x="169" y="448" width="3" height="21"/><rect x="173" y="448" width="3" height="26"/><rect x="177" y="448" width="3" height="29"/><rect x="181" y="448" width="3" height="29"/><rect x="185" y="448" width="3" height="30"/><rect x="189" y="448" width="3" height="29"/><rect x="193" y="448" width="3" height="27"/><rect x="197" y="448" width="3" height="25"/><rect x="201" y="448" width="3" height="17"/><rect x="205" y="448" width="3" height="14"/><rect x="209" y="448" width="3" height="10"/><rect x="213" y="448" width="3" height="6"/><rect x="217" y="448" width="3" height="3"/><rect x="221" y="446" width="3" height="1"/><rect x="225" y="441" width="3" height="6"/><rect x="229" y="435" width="3" height="12"/><rect x="233" y="427" width="3" height="20"/><rect x="237" y="422" width="3" height="25"/><rect x="241" y="422" width="3" height="25"/><rect x="245" y="428" width="3" height="19"/><rect x="249" y="430" width="3" height="17"/><rect x="253" y="434" width="3" height="13"/><rect x="257" y="439" width="3" height="8"/><rect x="261" y="444" width="3" height="3"/><rect x="269" y="448" width="3" height="4"/><rect x="273" y="448" width="3" height="7"/><rect x="277" y="448" width="3" height="7"/><rect x="281" y="448" width="3" height="3"/><rect x="285" y="448" width="3" height="3"/><rect x="293" y="446" width="3" height="1"/><rect x="297" y="439" width="3" height="8"/><rect x="301" y="434" width="3" height="13"/><rect x="305" y="431" width="3" height="16"/><rect x="309" y="431" width="3" height="16"/><rect x="313" y="427" width="3" height="20"/><rect x="317" y="426" width="3" height="21"/><rect x="321" y="427" width="3" height="20"/><rect x="325" y="428" width="3" height="19"/><rect x="329" y="434" width="3" height="13"/><rect x="333" y="441" width="3" height="6"/><rect x="337" y="448" width="3" height="4"/><rect x="341" y="448" width="3" height="9"/><rect x="345" y="448" width="3" height="15"/><rect x="349" y="448" width="3" height="19"/><rect x="353" y="448" width="3" height="20"/><rect x="357" y="448" width="3" height="19"/><rect x="361" y="448" width="3" height="19"/><rect x="365" y="448" width="3" height="20"/><rect x="369" y="448" width="3" height="22"/><rect x="373" y="448" width="3" height="24"/><rect x="377" y="448" width="3" height="19"/><rect x="381" y="448" width="3" height="17"/><rect x="385" y="448" width="3" height="15"/><rect x="389" y="448" width="3" height="12"/><rect x="393" y="448" width="3" height="9"/><rect x="397" y="448" width="3" height="7"/><rect x="401" y="448" width="3" height="9"/><rect x="405" y="448" width="3" height="12"/><rect x="409" y="448" width="3" height="11"/><rect x="413" y="448" width="3" height="6"/><rect x="417" y="448" width="3" height="3"/><rect x="421" y="446" width="3" height="1"/><rect x="425" y="440" width="3" height="7"/><rect x="429" y="434" width="3" height="13"/><rect x="433" y="426" width="3" height="21"/><rect x="437" y="424" width="3" height="23"/><rect x="441" y="424" width="3" height="23"/><rect x="445" y="428" width="3" height="19"/><rect x="449" y="429" width="3" height="18"/><rect x="453" y="432" width="3" height="15"/><rect x="457" y="435" width="3" height="12"/><rect x="461" y="438" width="3" height="9"/><rect x="465" y="439" width="3" height="8"/><rect x="469" y="439" width="3" height="8"/><rect x="473" y="439" width="3" height="8"/><rect x="477" y="438" width="3" height="9"/><rect x="481" y="441" width="3" height="6"/><rect x="485" y="444" width="3" height="3"/><rect x="489" y="448" width="3" height="3"/><rect x="493" y="448" width="3" height="9"/><rect x="497" y="448" width="3" height="8"/><rect x="501" y="448" width="3" height="8"/><rect x="505" y="448" width="3" height="7"/><rect x="509" y="448" width="3" height="7"/><rect x="513" y="448" width="3" height="7"/><rect x="517" y="448" width="3" height="3"/><rect x="521" y="444" width="3" height="3"/><rect x="525" y="440" width="3" height="7"/><rect x="529" y="432" width="3" height="15"/><rect x="533" y="422" width="3" height="25"/><rect x="537" y="417" width="3" height="30"/><rect x="541" y="422" width="3" height="25"/><rect x="545" y="431" width="3" height="16"/><rect x="549" y="438" width="3" height="9"/><rect x="553" y="448" width="3" height="3"/><rect x="557" y="448" width="3" height="14"/><rect x="561" y="448" width="3" height="19"/><rect x="565" y="448" width="3" height="18"/><rect x="569" y="448" width="3" height="14"/><rect x="573" y="448" width="3" height="9"/><rect x="577" y="448" width="3" height="4"/><rect x="581" y="446" width="3" height="1"/><rect x="585" y="448" width="3" height="2"/><rect x="589" y="448" width="3" height="2"/>
</g>
<rect x="2" y="447" width="747" height="1" fill="#708090"/>
<polyline points="2.5,448.6 6.5,442.9 10.5,434.7 14.5,429.5 18.5,432.5 22.5,442.2 26.5,454.3 30.5,459.6 34.5,455.1 38.5,443.5 42.5,430.7 46.5,421.8 50.5,419.5 54.5,420.8 58.5,424.4 62.5,428.4 66.5,432.6 70.5,436.6 74.5,435.3 78.5,430.7 82.5,426.9 86.5,428.4 90.5,432.6 94.5,431.7 98.5,426.9 102.5,421.2 106.5,418.4 110.5,419.7 114.5,422.0 118.5,425.6 122.5,431.1 126.5,437.4 130.5,442.3 134.5,439.3 138.5,434.1 142.5,428.0 146.5,425.4 150.5,424.4 154.5,427.1 158.5,437.1 162.5,447.8 166.5,459.4 170.5,463.5 174.5,468.5 178.5,470.1 182.5,472.4 186.5,472.0 190.5,470.7 194.5,471.1 198.5,470.2 202.5,463.5 206.5,453.7 210.5,444.3 214.5,442.3 218.5,440.4 222.5,438.1 226.5,433.2 230.5,427.3 234.5,421.6 238.5,418.0 242.5,418.9 246.5,425.1 250.5,434.4 254.5,444.3 258.5,449.0 262.5,451.3 266.5,451.3 270.5,453.2 274.5,455.3 278.5,456.2 282.5,450.7 286.5,442.2 290.5,434.3 294.5,433.1 298.5,431.2 302.5,428.5 306.5,423.7 310.5,422.7 314.5,422.7 318.5,424.2 322.5,424.0 326.5,426.1 330.5,430.6 334.5,439.1 338.5,449.8 342.5,459.3 346.5,466.4 350.5,468.3 354.5,468.5 358.5,462.7 362.5,456.9 366.5,452.1 370.5,457.1 374.5,464.5 378.5,467.8 382.5,462.8 386.5,453.4 390.5,445.2 394.5,439.9 398.5,436.7 402.5,440.3 406.5,448.1 410.5,455.9 414.5,454.2 418.5,444.1 422.5,432.6 426.5,425.3 430.5,421.7 434.5,419.4 438.5,419.2 442.5,421.7 446.5,427.2 450.5,431.7 454.5,435.5 458.5,436.1 462.5,437.6 466.5,435.9 470.5,434.4 474.5,430.5 478.5,428.6 482.5,430.1 486.5,435.5 490.5,444.8 494.5,453.8 498.5,457.4 502.5,453.6 506.5,442.8 510.5,434.1 514.5,428.7 518.5,428.2 522.5,427.3 526.5,425.7 530.5,423.4 534.5,422.0 538.5,420.8 542.5,422.3 546.5,428.8 550.5,441.6 554.5,455.9 558.5,467.0 562.5,471.2 566.5,468.3 570.5,456.6 574.5,439.9 578.5,425.8 582.5,419.4 586.5,422.2 590.5,430.0" fill="none" stroke="#ff0000" stroke-width="1" stroke-linejoin="round" stroke-dasharray="3 3"/>
<polyline points="2.5,441.6 6.5,434.0 10.5,428.4 14.5,426.2 18.5,442.9 22.5,457.5 26.5,462.5 30.5,458.7 34.5,444.2 38.5,427.7 42.5,420.1 46.5,417.6 50.5,420.8 54.5,423.9 58.5,428.4 62.5,432.8 66.5,436.6 70.5,440.4 74.5,429.0 78.5,422.7 82.5,429.0 86.5,433.4 90.5,435.3 94.5,426.5 98.5,418.9 102.5,418.2 106.5,418.2 110.5,422.7 114.5,425.2 118.5,429.0 122.5,439.1 126.5,444.2 130.5,443.5 134.5,430.3 138.5,428.4 142.5,425.2 146.5,422.7 150.5,425.2 154.5,433.4 158.5,452.6 162.5,457.4 166.5,468.1 170.5,465.0 174.5,472.3 178.5,473.0 182.5,471.8 186.5,471.3 190.5,469.1 194.5,472.9 198.5,468.5 202.5,449.2 206.5,443.5 210.5,440.3 214.5,443.1 218.5,437.8 222.5,433.4 226.5,428.3 230.5,420.1 234.5,416.5 238.5,417.5 242.5,422.6 246.5,435.3 250.5,445.4 254.5,452.3 258.5,449.2 262.5,452.3 266.5,452.3 270.5,454.9 274.5,458.7 278.5,454.9 282.5,438.4 286.5,433.4 290.5,431.2 294.5,434.6 298.5,427.7 302.5,423.2 306.5,420.3 310.5,424.5 314.5,423.2 318.5,424.9 322.5,423.9 326.5,429.6 330.5,438.4 334.5,449.2 338.5,461.8 342.5,466.9 346.5,470.4 350.5,467.5 354.5,467.5 358.5,453.0 362.5,450.2 366.5,453.0 370.5,468.2 374.5,472.2 378.5,463.1 382.5,453.0 386.5,444.1 390.5,438.4 394.5,437.2 398.5,434.6 402.5,449.2 406.5,460.6 410.5,458.0 414.5,444.1 418.5,430.2 422.5,423.6 426.5,422.0 430.5,419.4 434.5,416.9 438.5,421.3 442.5,427.0 446.5,433.4 450.5,434.6 454.5,438.4 458.5,435.3 462.5,439.1 466.5,433.4 470.5,430.8 474.5,427.4 478.5,427.7 482.5,435.3 486.5,443.5 490.5,455.5 494.5,462.5 498.5,454.2 502.5,444.1 506.5,430.2 510.5,427.9 514.5,427.9 518.5,428.9 522.5,425.1 526.5,423.2 530.5,422.0 534.5,420.7 538.5,419.8 542.5,426.4 546.5,440.3 550.5,458.0 554.5,469.4 558.5,473.5 562.5,470.7 566.5,460.6 570.5,438.4 574.5,420.7 578.5,418.2 582.5,419.4 586.5,428.9 590.5,441.6" fill="none" stroke="#0000ff" stroke-width="1" stroke-linejoin="round"/>
</g>
<rect x="1" y="1" width="1" height="479" fill="#000"/>
<rect x="1" y="1" width="749" height="1" fill="#000"/>
<rect x="749" y="1" width="1" height="479" fill="#000"/>
<rect x="1" y="411" width="749" height="1" fill="#000"/>
<rect x="2" y="412" width="747" height="1" fill="#fff"/>
<rect x="1" y="413" width="749" height="1" fill="#000"/>
<rect x="1" y="479" width="750" height="1" fill="#000"/>
<rect x="750" y="11" width="2" height="1" fill="#000"/>
<rect x="750" y="44" width="2" height="1" fill="#000"/>
<rect x="750" y="77" width="2" height="1" fill="#000"/>
<rect x="750" y="111" width="2" height="1" fill="#000"/>
<rect x="750" y="144" width="2" height="1" fill="#000"/>
<rect x="750" y="177" width="2" height="1" fill="#000"/>
<rect x="750" y="210" width="2" height="1" fill="#000"/>
<rect x="750" y="243" width="2" height="1" fill="#000"/>
<rect x="750" y="276" width="2" height="1" fill="#000"/>
<rect x="750" y="309" width="2" height="1" fill="#000"/>
<rect x="750" y="342" width="2" height="1" fill="#000"/>
<rect x="750" y="375" width="2" height="1" fill="#000"/>
<rect x="750" y="408" width="2" height="1" fill="#000"/>
<rect x="2" y="480" width="1" height="3" fill="#000"/>
<rect x="66" y="480" width="1" height="3" fill="#000"/>
<rect x="130" y="480" width="1" height="3" fill="#000"/>
<rect x="194" y="480" width="1" height="3" fill="#000"/>
<rect x="258" y="480" width="1" height="3" fill="#000"/>
<rect x="322" y="480" width="1" height="3" fill="#000"/>
<rect x="386" y="480" width="1" height="3" fill="#000"/>
<rect x="450" y="480" width="1" height="3" fill="#000"/>
<rect x="514" y="480" width="1" height="3" fill="#000"/>
<rect x="578" y="480" width="1" height="3" fill="#000"/>
</g>
<polygon points="5,8 13,8 9,12" fill="#000"/>
<text x="17.7" y="13" textLength="56.3" lengthAdjust="spacingAndGlyphs">#USDX,Daily</text>
<text x="80.3" y="13" textLength="27.7" lengthAdjust="spacingAndGlyphs">112.41</text>
<text x="111.6" y="13" textLength="27.4" lengthAdjust="spacingAndGlyphs">113.06</text>
<text x="142" y="13" textLength="28.5" lengthAdjust="spacingAndGlyphs">112.13</text>
<text x="173.3" y="13" textLength="27.7" lengthAdjust="spacingAndGlyphs">112.87</text>
<text x="755.3" y="14.7" textLength="27.5" lengthAdjust="spacingAndGlyphs">115.30</text>
<text x="755.3" y="47.7" textLength="27.5" lengthAdjust="spacingAndGlyphs">113.80</text>
<text x="755.3" y="80.7" textLength="27.5" lengthAdjust="spacingAndGlyphs">112.30</text>
<text x="755.3" y="114.7" textLength="27.5" lengthAdjust="spacingAndGlyphs">110.80</text>
<text x="755.3" y="147.7" textLength="27.5" lengthAdjust="spacingAndGlyphs">109.30</text>
<text x="755.3" y="180.7" textLength="27.5" lengthAdjust="spacingAndGlyphs">107.80</text>
<text x="755.3" y="213.7" textLength="27.5" lengthAdjust="spacingAndGlyphs">106.30</text>
<text x="755.3" y="246.7" textLength="27.5" lengthAdjust="spacingAndGlyphs">104.80</text>
<text x="755.3" y="279.7" textLength="27.5" lengthAdjust="spacingAndGlyphs">103.30</text>
<text x="755.3" y="312.7" textLength="27.5" lengthAdjust="spacingAndGlyphs">101.80</text>
<text x="755.3" y="345.7" textLength="27.5" lengthAdjust="spacingAndGlyphs">100.30</text>
<text x="755.3" y="378.7" textLength="22.5" lengthAdjust="spacingAndGlyphs">98.80</text>
<text x="755.3" y="411.7" textLength="22.5" lengthAdjust="spacingAndGlyphs">97.30</text>
<rect x="751" y="18" width="36" height="11" fill="#708090" shape-rendering="crispEdges"/>
<text class="w" x="755.3" y="27" textLength="27.5" lengthAdjust="spacingAndGlyphs">114.74</text>
<rect x="751" y="56" width="36" height="11" fill="#708090" shape-rendering="crispEdges"/>
<text class="w" x="755.3" y="65" textLength="27.5" lengthAdjust="spacingAndGlyphs">113.00</text>
<rect x="751" y="66" width="36" height="11" fill="#708090" shape-rendering="crispEdges"/>
<text class="w" x="755.3" y="75" textLength="27.5" lengthAdjust="spacingAndGlyphs">112.57</text>
<rect x="751" y="98" width="36" height="11" fill="#708090" shape-rendering="crispEdges"/>
<text class="w" x="755.3" y="107" textLength="27.5" lengthAdjust="spacingAndGlyphs">111.10</text>
<rect x="751" y="118" width="36" height="11" fill="#708090" shape-rendering="crispEdges"/>
<text class="w" x="755.3" y="127" textLength="27.5" lengthAdjust="spacingAndGlyphs">110.20</text>
<rect x="751" y="206" width="36" height="11" fill="#708090" shape-rendering="crispEdges"/>
<text class="w" x="755.3" y="215" textLength="27.5" lengthAdjust="spacingAndGlyphs">106.20</text>
<rect x="751" y="244" width="36" height="11" fill="#708090" shape-rendering="crispEdges"/>
<text class="w" x="755.3" y="253" textLength="27.5" lengthAdjust="spacingAndGlyphs">104.50</text>
<rect x="751" y="343" width="36" height="11" fill="#708090" shape-rendering="crispEdges"/>
<text class="w" x="755.3" y="352" textLength="27.5" lengthAdjust="spacingAndGlyphs">100.00</text>
<rect x="751" y="397" width="31" height="11" fill="#708090" shape-rendering="crispEdges"/>
<text class="w" x="755.3" y="406" textLength="22.5" lengthAdjust="spacingAndGlyphs">97.55</text>
<rect x="751" y="442" width="7" height="11" fill="#708090" shape-rendering="crispEdges"/>
<text x="753" y="423.3" textLength="28" lengthAdjust="spacingAndGlyphs">0.5595</text>
<text x="753" y="430.3" textLength="10" lengthAdjust="spacingAndGlyphs">80</text>
<text x="753" y="450.3" textLength="18" lengthAdjust="spacingAndGlyphs">0.00</text>
<text x="753" y="469.3" textLength="10" lengthAdjust="spacingAndGlyphs">20</text>
<text x="753" y="475.5" textLength="31" lengthAdjust="spacingAndGlyphs">-0.5473</text>
<text x="6.3" y="425.7" textLength="64.3" lengthAdjust="spacingAndGlyphs">OsMA(12,26,9)</text>
<text x="74" y="425.7" textLength="34.3" lengthAdjust="spacingAndGlyphs">-0.0139</text>
<text x="111.7" y="425.7" textLength="48.3" lengthAdjust="spacingAndGlyphs">Stoch(5,3,3)</text>
<text x="163.5" y="425.7" textLength="33.8" lengthAdjust="spacingAndGlyphs">57.2519</text>
<text x="200.6" y="425.7" textLength="30.4" lengthAdjust="spacingAndGlyphs">75.2277</text>
<text x="1.4" y="491.5" textLength="51.4" lengthAdjust="spacingAndGlyphs">23 Mar 2022</text>
<text x="65.4" y="491.5" textLength="50.7" lengthAdjust="spacingAndGlyphs">14 Apr 2022</text>
<text x="129.4" y="491.5" textLength="49" lengthAdjust="spacingAndGlyphs">6 May 2022</text>
<text x="193.4" y="491.5" textLength="54.7" lengthAdjust="spacingAndGlyphs">30 May 2022</text>
<text x="257.4" y="491.5" textLength="48.6" lengthAdjust="spacingAndGlyphs">21 Jun 2022</text>
<text x="321.4" y="491.5" textLength="46.5" lengthAdjust="spacingAndGlyphs">13 Jul 2022</text>
<text x="385.4" y="491.5" textLength="47.8" lengthAdjust="spacingAndGlyphs">4 Aug 2022</text>
<text x="449.4" y="491.5" textLength="52.7" lengthAdjust="spacingAndGlyphs">26 Aug 2022</text>
<text x="513.4" y="491.5" textLength="51" lengthAdjust="spacingAndGlyphs">19 Sep 2022</text>
<text x="577.4" y="491.5" textLength="50" lengthAdjust="spacingAndGlyphs">11 Oct 2022</text>
</svg>
</body></html>
